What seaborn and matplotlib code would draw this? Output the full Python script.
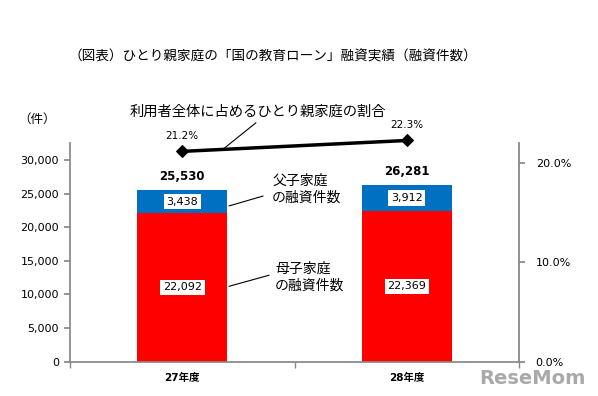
import matplotlib
matplotlib.use("Agg")
import matplotlib.pyplot as plt
import seaborn as sns
import pandas as pd

# data
years = ["27年度", "28年度"]
mother = [22092, 22369]   # 母子家庭
father = [3438, 3912]     # 父子家庭
totals = [25530, 26281]
share = [21.2, 22.3]      # 利用者全体に占めるひとり親家庭の割合 (%)

sns.set_theme(style="white")
plt.rcParams['font.family'] = ['DejaVu Sans', 'Noto Sans CJK JP']
plt.rcParams['text.color'] = 'black'
plt.rcParams['xtick.color'] = 'black'
plt.rcParams['ytick.color'] = 'black'

df = pd.DataFrame({"year": years, "mother": mother, "father": father, "total": totals})

fig = plt.figure(figsize=(5.98, 3.96), dpi=100)
ax = fig.add_axes([0.117, 0.087, 0.751, 0.552])

sns.barplot(data=df, x="year", y="total", color="#0070C0", width=0.4,
            saturation=1, linewidth=0, ax=ax)
sns.barplot(data=df, x="year", y="mother", color="#FF0000", width=0.4,
            saturation=1, linewidth=0, ax=ax)

ax.set_xlim(-0.5, 1.5)
ax.set_ylim(0, 32550)
ax.set_yticks(range(0, 30001, 5000))
ax.set_yticklabels([f"{v:,}" for v in range(0, 30001, 5000)], fontsize=8)
ax.set_xticks([0, 1])
ax.set_xticklabels(years, fontsize=7.5, fontweight="bold")
ax.set_xticks([-0.5, 0.5, 1.5], minor=True)
ax.tick_params(axis="x", which="major", length=0, pad=8)
ax.tick_params(axis="x", which="minor", length=4, color="#888888", bottom=True)
ax.tick_params(axis="y", length=4, color="#888888", labelcolor="black", left=True, pad=4)
ax.set_xlabel("")
ax.set_ylabel("")
for s in ["top", "right"]:
    ax.spines[s].set_visible(False)
for s in ["left", "bottom"]:
    ax.spines[s].set_color("#888888")

box = dict(boxstyle="square,pad=0.25", fc="white", ec="none")
for i in range(2):
    ax.text(i, mother[i] / 2, f"{mother[i]:,}", ha="center", va="center",
            fontsize=8, bbox=box)
    ax.text(i, mother[i] + father[i] / 2, f"{father[i]:,}", ha="center",
            va="center", fontsize=8, bbox=box)
    ax.text(i, totals[i] + 2000, f"{totals[i]:,}", ha="center", va="center",
            fontsize=8.5, fontweight="heavy")

# right axis: share
ax2 = ax.twinx()
sns.lineplot(x=[0, 1], y=share, color="black", linewidth=2.5, marker="D",
             markersize=6, markeredgecolor="black", ax=ax2, clip_on=False)
ax2.set_ylim(0, 22.05)
ax2.set_yticks([0, 10, 20])
ax2.set_yticklabels(["0.0%", "10.0%", "20.0%"], fontsize=8)
ax2.tick_params(axis="y", length=4, color="#888888", labelcolor="black", right=True, pad=8)
for s in ["top", "left", "bottom"]:
    ax2.spines[s].set_visible(False)
ax2.spines["right"].set_color("#888888")
ax2.spines["right"].set_linewidth(1.3)
for i in range(2):
    ax2.text(i, share[i] + 1.6, f"{share[i]}%", ha="center", va="center",
             fontsize=7.5)

# annotations (figure coords)
fig.text(0.457, 0.857, "（図表）ひとり親家庭の「国の教育ローン」融資実績（融資件数）",
         ha="center", va="center", fontsize=9.8)
fig.text(0.432, 0.717, "利用者全体に占めるひとり親家庭の割合", ha="center",
         va="center", fontsize=10.3)
fig.text(0.03, 0.700, "（件）", ha="left", va="center", fontsize=9)
fig.add_artist(plt.Line2D([0.428, 0.372], [0.690, 0.622], color="black", lw=0.8))

fig.text(0.455, 0.523, "父子家庭\nの融資件数", ha="left", va="center",
         fontsize=10, linespacing=1.25)
fig.add_artist(plt.Line2D([0.383, 0.440], [0.480, 0.505], color="black", lw=0.8))
fig.text(0.460, 0.300, "母子家庭\nの融資件数", ha="left", va="center",
         fontsize=10, linespacing=1.25)
fig.add_artist(plt.Line2D([0.383, 0.450], [0.277, 0.305], color="black", lw=0.8))

fig.text(0.98, 0.045, "ReseMom", ha="right", va="center", fontsize=14,
         fontweight="bold", color="#9a9a9a", alpha=0.85)

fig.savefig("out.png", dpi=100)
